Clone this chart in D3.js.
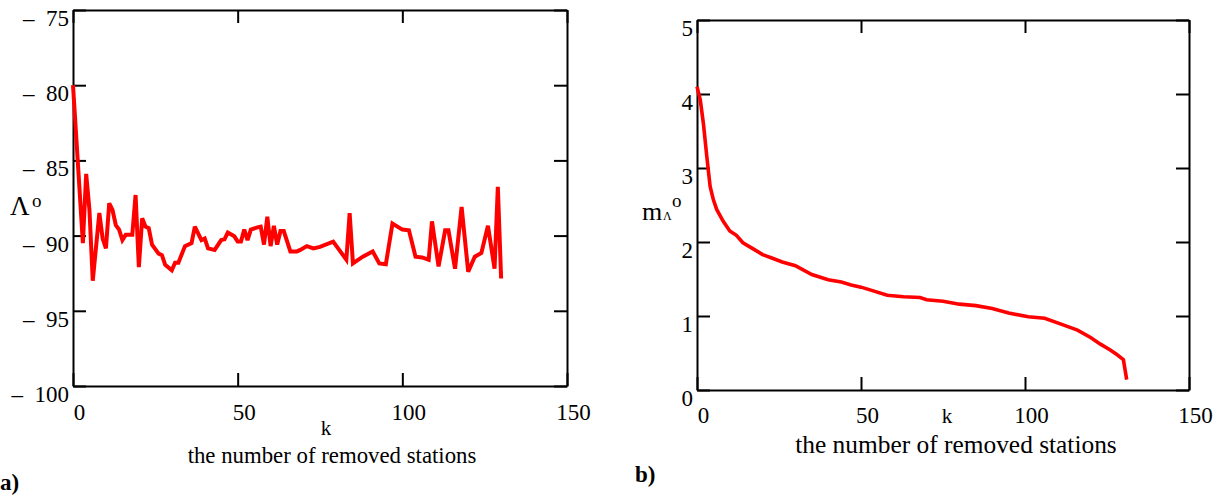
<!DOCTYPE html>
<html>
<head>
<meta charset="utf-8">
<script src="https://cdn.jsdelivr.net/npm/d3@7"></script>
<style>
  body { margin: 0; background: #fff; }
  text { font-family: "Liberation Serif", "Times New Roman", serif; fill: #000; }
</style>
</head>
<body>
<div class="canvas"></div>
<script>
// a) longitude estimate vs number of removed stations
const kA = [0,3,4,5,6,8,9,10,11,12,13,14,15,16,18,19,20,21,22,23,24,26,27,28,30,31,32,34,36,37,39,40,41,43,45,46,47,49,50,51,52,53,54,56,57,58,59,60,61,62,63,64,66,68,69,71,73,75,79,83,84,85,88,91,93,95,97,100,102,104,106,108,109,111,113,114,116,118,120,122,124,126,128,129,130];
const lamA = [-80,-90.5,-85.9,-88.3,-93.0,-88.5,-90.2,-90.85,-87.85,-88.3,-89.3,-89.6,-90.3,-89.95,-89.95,-87.3,-92.1,-88.85,-89.4,-89.5,-90.6,-91.2,-91.3,-91.95,-92.3,-91.8,-91.8,-90.7,-90.5,-89.4,-90.3,-90.2,-90.85,-90.95,-90.3,-90.25,-89.8,-90.05,-90.4,-90.4,-89.6,-90.3,-89.6,-89.45,-89.4,-90.6,-88.75,-90.7,-89.35,-90.6,-89.7,-89.7,-91.05,-91.05,-90.95,-90.7,-90.85,-90.75,-90.4,-91.6,-88.5,-91.85,-91.4,-91.05,-91.85,-91.9,-89.2,-89.6,-89.65,-91.4,-91.45,-91.6,-89.05,-92.05,-89.65,-89.65,-92.2,-88.1,-92.4,-91.4,-91.15,-89.35,-92.2,-86.75,-92.85];

// b) its rms error
const kB = [0,1,2,3,4,5,6,8,10,12,14,17,20,23,26,30,35,40,44,47,50,53,58,63,68,70,75,80,85,90,95,101,106,111,116,120,123,126,128,130,131];
const mB = [4.10,3.92,3.58,3.15,2.75,2.57,2.44,2.28,2.15,2.09,1.99,1.91,1.83,1.78,1.73,1.68,1.56,1.49,1.46,1.42,1.39,1.35,1.28,1.26,1.25,1.22,1.20,1.16,1.14,1.10,1.04,0.99,0.97,0.89,0.81,0.71,0.62,0.54,0.48,0.41,0.14];

const xTicks = [0, 50, 100, 150];
const yTicksA = [-100, -95, -90, -85, -80, -75];
const yTicksB = [0, 1, 2, 3, 4, 5];

const svg = d3.select('.canvas')
  .append('svg')
  .attr('width', 1221)
  .attr('height', 495)
  .style('display', 'block')
  .style('background', '#fff');

// draws one mathcad-style boxed plot
function drawPanel(opt) {
  const x = d3.scaleLinear().domain([0, 150]).range([opt.left, opt.right]);
  const y = d3.scaleLinear().domain(opt.yDomain).range([opt.bottom, opt.top]);
  const g = svg.append('g');

  const styleAxis = (ax) => {
    ax.attr('font-family', '"Liberation Serif", "Times New Roman", serif')
      .attr('font-size', 23);
    ax.selectAll('path, line').attr('stroke', '#000').attr('stroke-width', 2);
  };

  const bottom = g.append('g')
    .attr('transform', `translate(0,${opt.bottom})`)
    .call(d3.axisBottom(x).tickValues(xTicks).tickSize(-13).tickSizeOuter(0));
  styleAxis(bottom);
  bottom.selectAll('text').attr('dy', null).attr('y', opt.xLabelY).attr('dx', 6);

  const top = g.append('g')
    .attr('transform', `translate(0,${opt.top})`)
    .call(d3.axisTop(x).tickValues(xTicks).tickSize(-13).tickSizeOuter(0).tickFormat(''));
  styleAxis(top);

  const left = g.append('g')
    .attr('transform', `translate(${opt.left},0)`)
    .call(d3.axisLeft(y).tickValues(opt.yTicks).tickSize(-13).tickSizeOuter(0)
      .tickPadding(4).tickFormat(opt.yFormat));
  styleAxis(left);
  left.selectAll('text').attr('dy', null).attr('y', 15.5);

  const right = g.append('g')
    .attr('transform', `translate(${opt.right},0)`)
    .call(d3.axisRight(y).tickValues(opt.yTicks).tickSize(-13).tickSizeOuter(0).tickFormat(''));
  styleAxis(right);

  const line = d3.line()
    .x((d, i) => x(opt.ks[i]))
    .y(d => y(d));

  g.append('path')
    .datum(opt.vals)
    .attr('d', line)
    .attr('fill', 'none')
    .attr('stroke', '#ff0000')
    .attr('stroke-width', opt.lw)
    .attr('stroke-linejoin', 'miter')
    .attr('stroke-miterlimit', 3);

  return g;
}

const gA = drawPanel({
  left: 73, right: 567, top: 10, bottom: 386,
  yDomain: [-100, -75], yTicks: yTicksA,
  yFormat: d => '\u2013\u2002' + Math.abs(d),
  xLabelY: 34, ks: kA, vals: lamA, lw: 4
});

const gB = drawPanel({
  left: 697, right: 1189, top: 20, bottom: 390,
  yDomain: [0, 5], yTicks: yTicksB,
  yFormat: d => d,
  xLabelY: 33, ks: kB, vals: mB, lw: 3.6
});

// axis titles and panel letters
gA.append('text').attr('x', 10).attr('y', 215).attr('font-size', 27).text('\u039B');
gA.append('text').attr('x', 32).attr('y', 207).attr('font-size', 19).text('o');
gA.append('text').attr('x', 326).attr('y', 435).attr('text-anchor', 'middle')
  .attr('font-size', 21).text('k');
gA.append('text').attr('x', 332).attr('y', 463).attr('text-anchor', 'middle')
  .attr('font-size', 22.8).text('the number of removed stations');
gA.append('text').attr('x', 0).attr('y', 490).attr('font-size', 23)
  .attr('font-weight', 'bold').text('a)');

gB.append('text').attr('x', 642).attr('y', 220).attr('font-size', 26).text('m');
gB.append('text').attr('x', 663).attr('y', 220).attr('font-size', 12).text('\u039B');
gB.append('text').attr('x', 672).attr('y', 207).attr('font-size', 19).text('o');
gB.append('text').attr('x', 947).attr('y', 423).attr('text-anchor', 'middle')
  .attr('font-size', 21).text('k');
gB.append('text').attr('x', 956).attr('y', 453).attr('text-anchor', 'middle')
  .attr('font-size', 25.4).text('the number of removed stations');
gB.append('text').attr('x', 635).attr('y', 482).attr('font-size', 23)
  .attr('font-weight', 'bold').text('b)');
</script>
</body>
</html>
